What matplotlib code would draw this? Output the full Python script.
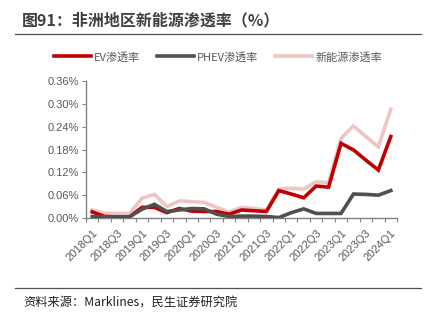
import numpy as np
import matplotlib
matplotlib.use("Agg")
import matplotlib.pyplot as plt
from matplotlib.lines import Line2D

plt.rcParams["font.family"] = ["Noto Sans CJK SC", "DejaVu Sans"]
plt.rcParams["axes.unicode_minus"] = False

# Quarterly penetration (%), Africa
quarters = [f"{y}Q{q}" for y in range(2018, 2025) for q in range(1, 5)][:25]
ev = [0.016, 0.004, 0.003, 0.003, 0.028, 0.028, 0.014, 0.025, 0.018, 0.017,
      0.017, 0.010, 0.021, 0.019, 0.017, 0.072, 0.063, 0.053, 0.084, 0.081,
      0.196, 0.179, 0.152, 0.126, 0.214]
phev = [0.004, 0.003, 0.003, 0.003, 0.023, 0.036, 0.017, 0.021, 0.025, 0.024,
        0.010, 0.004, 0.005, 0.005, 0.004, 0.001, 0.014, 0.024, 0.012, 0.012,
        0.012, 0.063, 0.062, 0.060, 0.072]
nev = [0.021, 0.012, 0.012, 0.012, 0.052, 0.062, 0.030, 0.045, 0.043, 0.041,
       0.028, 0.016, 0.028, 0.025, 0.021, 0.076, 0.078, 0.076, 0.095, 0.093,
       0.209, 0.242, 0.214, 0.187, 0.286]
yticks = [0.0, 0.06, 0.12, 0.18, 0.24, 0.30, 0.36]

C_EV = "#C00000"
C_PHEV = "#505050"
C_NEV = "#EEC4C4"
TXT = "#595959"
LAT = ["Liberation Sans", "DejaVu Sans"]

fig = plt.figure(figsize=(4.36, 3.24), dpi=100)
ax = fig.add_axes([86 / 436, 1 - 218 / 324, (397 - 86) / 436, (218 - 81) / 324])

x = np.arange(len(quarters))
ax.plot(x, nev, color=C_NEV, lw=2.6, solid_joinstyle="miter", zorder=2)
ax.plot(x, ev, color=C_EV, lw=2.6, solid_joinstyle="miter", zorder=3)
ax.plot(x, phev, color=C_PHEV, lw=2.6, solid_joinstyle="miter", zorder=4)

ax.set_xlim(-0.5, len(quarters) - 0.5)
ax.set_ylim(0, 0.36)
ax.set_yticks(yticks)
ax.set_yticklabels([f"{v:.2f}%" for v in yticks], color=TXT, fontsize=8, family=LAT)
ax.set_xticks(x[::2])
ax.set_xticklabels(quarters[::2], rotation=45, ha="right", rotation_mode="anchor",
                   color=TXT, fontsize=8, family=LAT)
ax.set_xticks(np.arange(-0.5, len(quarters), 1), minor=True)
ax.tick_params(axis="x", which="major", length=0, pad=7)
ax.tick_params(axis="x", which="minor", length=3, color="#808080", width=0.8)
ax.tick_params(axis="y", length=3, color="#808080", width=0.8, pad=2)
for s in ["top", "right"]:
    ax.spines[s].set_visible(False)
for s in ["left", "bottom"]:
    ax.spines[s].set_color("#808080")
    ax.spines[s].set_linewidth(1.0)

handles = [Line2D([], [], color=C_EV, lw=2.6),
           Line2D([], [], color=C_PHEV, lw=2.6),
           Line2D([], [], color=C_NEV, lw=2.6)]
fig.legend(handles, ["EV渗透率", "PHEV渗透率", "新能源渗透率"], loc="center",
           bbox_to_anchor=(0.5, 1 - 57 / 324), ncol=3, frameon=False,
           fontsize=8, labelcolor=TXT, handlelength=3.3, handletextpad=0.3,
           columnspacing=1.5)

fig.text(22 / 436, 1 - 20 / 324, "图91：非洲地区新能源渗透率（%）", fontsize=11.5,
         fontweight="bold", color="#404040", va="center", ha="left")
fig.add_artist(Line2D([15 / 436, 421 / 436], [1 - 34 / 324, 1 - 34 / 324],
                      color="#505050", lw=0.9))
fig.add_artist(Line2D([15 / 436, 421 / 436], [1 - 288 / 324, 1 - 288 / 324],
                      color="#505050", lw=0.9))
fig.text(23 / 436, 1 - 303 / 324, "资料来源：Marklines，民生证券研究院", fontsize=8.8,
         color="#202020", va="center", ha="left")

fig.savefig("out.png", dpi=100)
